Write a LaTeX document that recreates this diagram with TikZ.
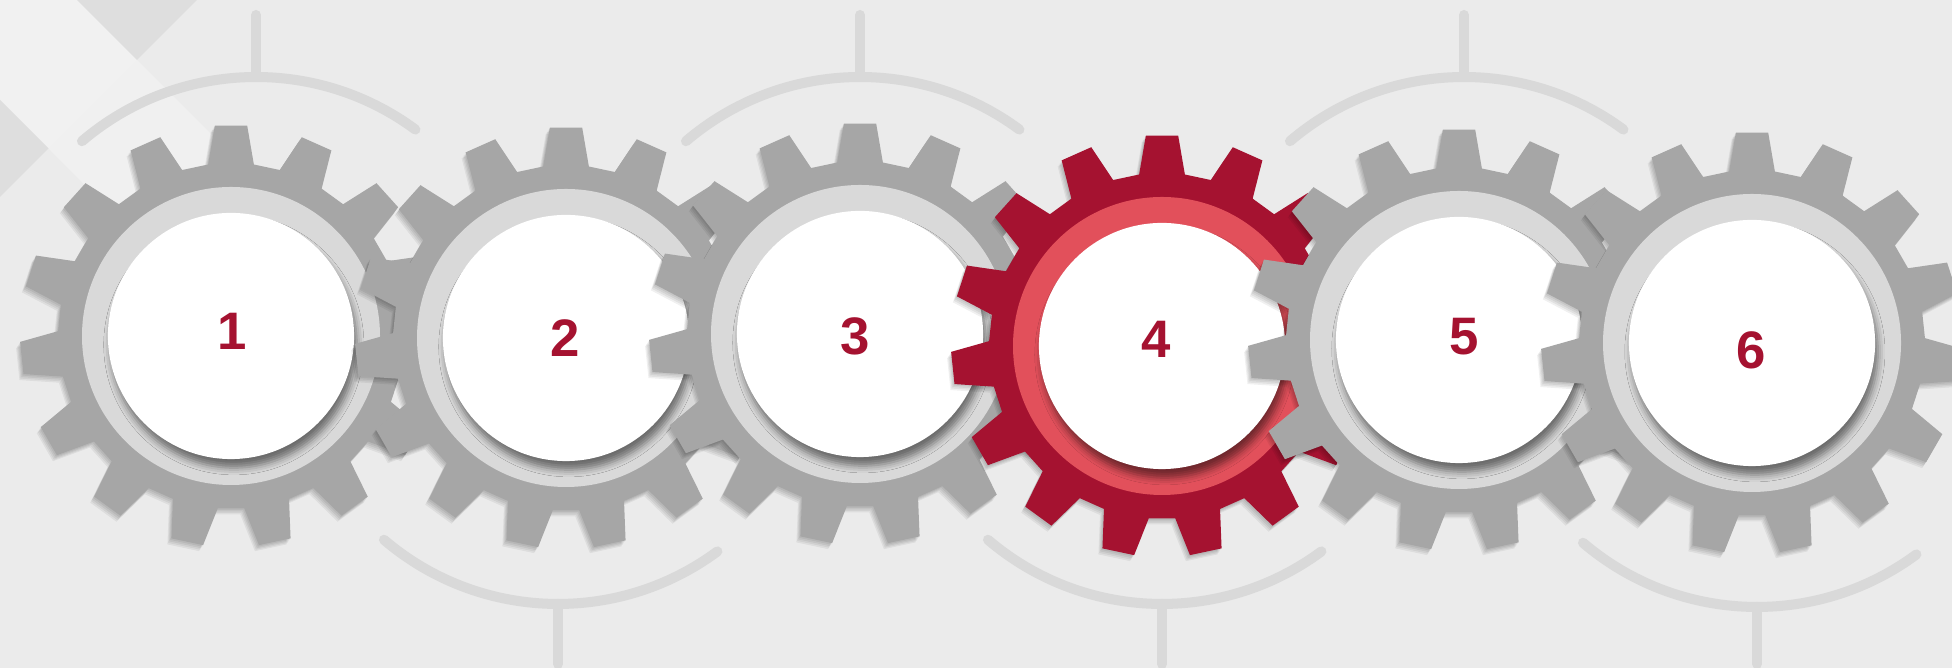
\documentclass[tikz,border=0pt]{standalone}
\usepackage{fontspec}
\setmainfont{Liberation Sans}
\usepackage{tikz}
\usetikzlibrary{math,shadows.blur}

\definecolor{bggray}{HTML}{EBEBEB}
\definecolor{tiledark}{HTML}{DEDEDE}
\definecolor{tilelight}{HTML}{F1F1F1}
\definecolor{decogray}{HTML}{D9D9D9}
\definecolor{geargray}{HTML}{A6A6A6}
\definecolor{ringgray}{HTML}{D9D9D9}
\definecolor{gearred}{HTML}{A51230}
\definecolor{ringpink}{HTML}{E2505B}

\tikzset{teeth/.style={insert path={(90-\hroot:\rroot)
    \foreach \k in {0,...,14}
    { -- ({90+24*\k-\hroot}:\rroot) -- ({90+24*\k-\htip}:\rtip)
      -- ({90+24*\k+\htip}:\rtip) -- ({90+24*\k+\hroot}:\rroot) } -- cycle}}}

\begin{document}
\begin{tikzpicture}[x=0.01cm, y=0.01cm,
    deco/.style={draw=decogray, line width=2.85pt, line cap=round},
    hub/.style={circle, fill=white, inner sep=0pt, minimum size=2.46cm,
        blur shadow={shadow xshift=0.8pt, shadow yshift=-2.5pt,
        shadow blur radius=2pt, shadow opacity=50}},
    num/.style={text=gearred, inner sep=0pt, font=\fontsize{15}{15}\selectfont\bfseries}]
        \tikzmath{\rroot = 173; \rtip = 211; \htip = 4.4; \hroot = 7.6;}
        \useasboundingbox (0,0) rectangle (1952,668);
        \clip (0,0) rectangle (1952,668);
        \fill[bggray] (0,0) rectangle (1952,668);

        % tiles in the corner
        \fill[tilelight] (0,668) -- (77,668) -- (137,608) -- (48.5,519.5) -- (0,568) -- cycle;
        \fill[white, opacity=0.25] (137,608) -- (260,485) -- (171,396) -- (48.5,519.5) -- cycle;
        \fill[tiledark] (77,668) -- (197,668) -- (137,608) -- cycle;
        \fill[tiledark] (0,568) -- (48.5,519.5) -- (0,471) -- cycle;

        % arcs above and below
        \foreach \ax in {256,860,1464}
        {
            \draw[deco] (\ax,323) ++(130.5:268) arc[start angle=130.5, end angle=53.5, radius=268];
            \draw[deco] (\ax,591) -- (\ax,653);
        }
        \foreach \ax/\ay in {558/332,1162/332,1757/329}
        {
            \draw[deco] (\ax,\ay) ++(229.5:268) arc[start angle=229.5, end angle=306.5, radius=268];
            \draw[deco] (\ax,{\ay-268}) -- (\ax,4);
        }

        % gears
        \foreach \n/\cx/\cy/\lx/\ly/\body/\ring in {1/231/332/232/337/geargray/ringgray,
            2/566/330/565/330/geargray/ringgray, 3/860/334/855/332/geargray/ringgray,
            4/1162/322/1156/329/gearred/ringpink, 5/1459/328/1464/331/geargray/ringgray,
            6/1752/325/1751/318/geargray/ringgray}
            {
                \begin{scope}[shift={(\cx,\cy)}]
                    \foreach \s in {1,2,3,4}
                        \fill[black, opacity=0.06, shift={(-\s,{-1.5*\s})}, teeth];
                    \fill[\body, teeth];
                    \fill[\ring] (0,0) circle[radius=149];
                \end{scope}
                \node[hub] (hub\n) at (\cx,\cy) {};
                \node[num] (num\n) at (\lx,\ly) {\n};
            }
    \end{tikzpicture}
\end{document}
